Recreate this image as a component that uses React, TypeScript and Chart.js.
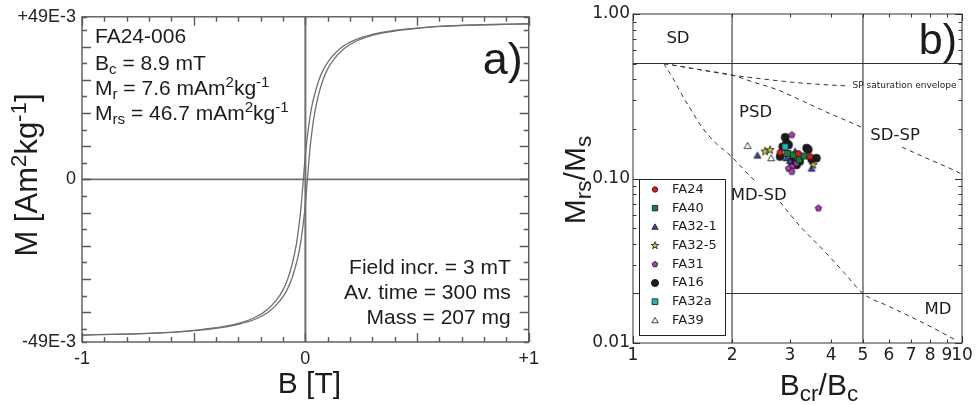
import React, { useEffect, useRef } from 'react';
import { Chart, registerables } from 'chart.js';

Chart.register(...registerables);

// ---------------- Panel a: hysteresis loop ----------------
const FIELD_T = [-1, -0.8, -0.6, -0.5, -0.4, -0.3, -0.22, -0.17, -0.13, -0.1, -0.08, -0.06, -0.04, -0.03, -0.02, -0.01, 0,
  0.01, 0.02, 0.03, 0.04, 0.06, 0.08, 0.1, 0.13, 0.17, 0.22, 0.3, 0.4, 0.5, 0.6, 0.8, 1];
// descending branch (from +1 T to -1 T)
const M_DESCENDING = [-0.0469, -0.0466, -0.0461, -0.0455, -0.0447, -0.0434, -0.0414, -0.0392, -0.0364, -0.0333, -0.0302, -0.0258, -0.0194, -0.0147, -0.0088, -0.0008, 0.0074,
  0.0136, 0.0185, 0.0224, 0.0252, 0.0298, 0.033, 0.0353, 0.0378, 0.0402, 0.042, 0.0437, 0.0449, 0.0456, 0.0461, 0.0466, 0.0469];
// ascending branch (from -1 T to +1 T)
const M_ASCENDING = [-0.0469, -0.0466, -0.0461, -0.0456, -0.0449, -0.0437, -0.042, -0.0402, -0.0378, -0.0353, -0.033, -0.0298, -0.0252, -0.0224, -0.0185, -0.0136, -0.0074,
  0.0008, 0.0088, 0.0147, 0.0194, 0.0258, 0.0302, 0.0333, 0.0364, 0.0392, 0.0414, 0.0434, 0.0447, 0.0455, 0.0461, 0.0466, 0.0469];
const A_X_TICKS = [-1, -0.9, -0.8, -0.7, -0.6, -0.5, -0.4, -0.3, -0.2, -0.1, 0, 0.1, 0.2, 0.3, 0.4, 0.5, 0.6, 0.7, 0.8, 0.9, 1];
const A_Y_TICKS = [-0.049, -0.045, -0.04, -0.035, -0.03, -0.025, -0.02, -0.015, -0.01, -0.005, 0,
  0.005, 0.01, 0.015, 0.02, 0.025, 0.03, 0.035, 0.04, 0.045, 0.049];
const A_X_LABELS: [number, string][] = [[-1, '-1'], [0, '0'], [1, '+1']];
const A_Y_LABELS: [number, string][] = [[-0.049, '-49E-3'], [0, '0'], [0.049, '+49E-3']];

// ---------------- Panel b: Day plot ----------------
const B_X_TICKS = [1, 2, 3, 4, 5, 6, 7, 8, 9, 10];
const B_X_LABELS: [number, string][] = [[1, '1'], [2, '2'], [3, '3'], [4, '4'], [5, '5'], [6, '6'], [7, '7'], [8, '8'], [9, '9'], [10, '10']];
const B_Y_TICKS = [0.01, 0.02, 0.03, 0.04, 0.05, 0.06, 0.07, 0.08, 0.09, 0.1, 0.2, 0.3, 0.4, 0.5, 0.6, 0.7, 0.8, 0.9, 1];
const B_Y_LABELS: [number, string][] = [[0.01, '0.01'], [0.1, '0.10'], [1, '1.00']];
const BCR_BOUNDS = [2, 5];
const MRS_BOUNDS = [0.02, 0.5];

const SP_ENV_X = [1.24, 1.6, 2.0, 2.5, 3.0, 3.5, 4.0, 4.55];
const SP_ENV_Y = [0.5, 0.458, 0.425, 0.402, 0.386, 0.376, 0.37, 0.365];
const SDSP_A_X = [1.24, 1.6, 2.0, 2.3, 2.76, 3.3, 3.97, 4.5, 5.0];
const SDSP_A_Y = [0.5, 0.458, 0.425, 0.388, 0.345, 0.294, 0.248, 0.223, 0.203];
const SDSP_B_X = [6.57, 8.0, 9.66, 10];
const SDSP_B_Y = [0.155, 0.13, 0.11, 0.106];
const MDSD_A_X = [1.24, 1.32, 1.4, 1.5, 1.62, 1.78, 2.0, 2.2, 2.38];
const MDSD_A_Y = [0.5, 0.41, 0.33, 0.262, 0.205, 0.165, 0.135, 0.11, 0.094];
const MDSD_B_X = [2.8, 3.2, 3.79, 4.4, 5.0, 6.0, 6.95, 8.2, 9.5];
const MDSD_B_Y = [0.072, 0.052, 0.0367, 0.0265, 0.02, 0.0167, 0.0145, 0.0123, 0.0105];

const SAMPLE_NAMES = ['FA24', 'FA40', 'FA32-1', 'FA32-5', 'FA31', 'FA16', 'FA32a', 'FA39'];
const FA24_X = [2.8, 3.18, 3.45];
const FA24_Y = [0.144, 0.142, 0.136];
const FA40_X = [2.95, 3.07, 3.2, 3.31];
const FA40_Y = [0.142, 0.139, 0.13, 0.137];
const FA32_1_X = [2.39, 2.93, 3.11, 3.0, 3.49];
const FA32_1_Y = [0.138, 0.133, 0.146, 0.128, 0.115];
const FA32_5_X = [2.52, 2.61, 3.53];
const FA32_5_Y = [0.146, 0.149, 0.121];
const FA31_X = [3.04, 3.14, 3.04, 2.97, 3.04, 3.66];
const FA31_Y = [0.184, 0.124, 0.118, 0.115, 0.11, 0.066];
const FA16_X = [2.9, 2.93, 2.85, 2.97, 3.37, 3.41, 3.61, 3.21, 3.04, 2.8, 3.14, 3.49];
const FA16_Y = [0.178, 0.164, 0.156, 0.16, 0.153, 0.15, 0.133, 0.127, 0.127, 0.136, 0.121, 0.131];
const FA32A_X = [2.9];
const FA32A_Y = [0.156];
const FA39_X = [2.23, 2.63];
const FA39_Y = [0.158, 0.133];

const SAMPLE_X = [FA24_X, FA40_X, FA32_1_X, FA32_5_X, FA31_X, FA16_X, FA32A_X, FA39_X];
const SAMPLE_Y = [FA24_Y, FA40_Y, FA32_1_Y, FA32_5_Y, FA31_Y, FA16_Y, FA32A_Y, FA39_Y];

// styles
const MARKER_SHAPE = ['circle', 'square', 'triangle', 'star', 'pentagon', 'circle', 'square', 'triangle'];
const MARKER_FILL = ['#e3191e', '#17803d', '#3548a8', '#d8c23a', '#b23db0', '#1c1c1c', '#22b3bf', '#ffffff'];
const MARKER_R = [3, 3, 3.2, 3.2, 3, 4, 3.2, 3.2];

const B_ANNOTATIONS: { text: string; x: number; y: number }[] = [
  { text: 'SD', x: 1.37, y: 0.705 },
  { text: 'PSD', x: 2.36, y: 0.25 },
  { text: 'SD-SP', x: 6.26, y: 0.181 },
  { text: 'MD-SD', x: 2.41, y: 0.079 },
  { text: 'MD', x: 8.45, y: 0.0159 },
];

const SANS = "'Liberation Sans', Arial, Helvetica, sans-serif";
const DEJAVU = "'DejaVu Sans', Verdana, sans-serif";

type Seg = [string, number];

function pts(xs: number[], ys: number[]) {
  return xs.map((x, i) => ({ x, y: ys[i] }));
}

function valueLabel(pairs: [number, string][], v: number) {
  const p = pairs.find(([k]) => Math.abs(k - v) < 1e-9);
  return p ? p[1] : '';
}

function drawRich(ctx: CanvasRenderingContext2D, segs: Seg[], x: number, y: number, size: number, family: string,
  align: 'left' | 'right' | 'center', color: string, rotate = false, scale = 0.72) {
  ctx.save();
  ctx.fillStyle = color;
  ctx.textBaseline = 'alphabetic';
  ctx.textAlign = 'left';
  const fontFor = (m: number) => `${m === 0 ? size : size * scale}px ${family}`;
  let total = 0;
  for (const [t, m] of segs) {
    ctx.font = fontFor(m);
    total += ctx.measureText(t).width;
  }
  ctx.translate(x, y);
  if (rotate) ctx.rotate(-Math.PI / 2);
  let cx = align === 'left' ? 0 : align === 'right' ? -total : -total / 2;
  for (const [t, m] of segs) {
    ctx.font = fontFor(m);
    const dy = m === -1 ? size * 0.2 : m === 1 ? -size * 0.36 : 0;
    ctx.fillText(t, cx, dy);
    cx += ctx.measureText(t).width;
  }
  ctx.restore();
}

function shapePath(ctx: CanvasRenderingContext2D, shape: string, x: number, y: number, r: number) {
  ctx.beginPath();
  if (shape === 'circle') {
    ctx.arc(x, y, r, 0, Math.PI * 2);
  } else if (shape === 'square') {
    ctx.rect(x - r, y - r, 2 * r, 2 * r);
  } else if (shape === 'triangle') {
    const R = r * 1.25;
    for (let k = 0; k < 3; k++) {
      const a = -Math.PI / 2 + (k * 2 * Math.PI) / 3;
      const px = x + R * Math.cos(a), py = y + R * Math.sin(a) + r * 0.2;
      if (k === 0) ctx.moveTo(px, py); else ctx.lineTo(px, py);
    }
  } else if (shape === 'star') {
    for (let k = 0; k < 10; k++) {
      const a = -Math.PI / 2 + (k * Math.PI) / 5;
      const R = k % 2 === 0 ? r * 1.35 : r * 0.55;
      const px = x + R * Math.cos(a), py = y + R * Math.sin(a);
      if (k === 0) ctx.moveTo(px, py); else ctx.lineTo(px, py);
    }
  } else {
    for (let k = 0; k < 5; k++) {
      const a = -Math.PI / 2 + (k * 2 * Math.PI) / 5;
      const px = x + r * 1.1 * Math.cos(a), py = y + r * 1.1 * Math.sin(a);
      if (k === 0) ctx.moveTo(px, py); else ctx.lineTo(px, py);
    }
  }
  ctx.closePath();
}

function drawShape(ctx: CanvasRenderingContext2D, shape: string, x: number, y: number, r: number, fill: string) {
  ctx.save();
  shapePath(ctx, shape, x, y, r);
  ctx.fillStyle = fill;
  ctx.fill();
  ctx.lineWidth = 0.8;
  ctx.strokeStyle = '#111';
  ctx.stroke();
  ctx.restore();
}

function makeMarker(shape: string, r: number, fill: string) {
  const c = document.createElement('canvas');
  const s = Math.ceil(r * 3 + 4);
  c.width = s;
  c.height = s;
  const ctx = c.getContext('2d')!;
  drawShape(ctx, shape, s / 2, s / 2, r, fill);
  return c;
}

function drawFrame(chart: any, color: string, lw: number, majorLen: number, minorLen: number,
  isMajorX: (v: number) => boolean, isMajorY: (v: number) => boolean) {
  const { ctx, chartArea: a } = chart;
  const xs = chart.scales.x, ys = chart.scales.y;
  ctx.save();
  ctx.strokeStyle = color;
  ctx.lineWidth = lw;
  ctx.beginPath();
  for (const t of xs.ticks) {
    const px = Math.round(xs.getPixelForValue(t.value)) + 0.5;
    const L = isMajorX(t.value) ? majorLen : minorLen;
    ctx.moveTo(px, a.bottom); ctx.lineTo(px, a.bottom - L);
    ctx.moveTo(px, a.top); ctx.lineTo(px, a.top + L);
  }
  for (const t of ys.ticks) {
    const py = Math.round(ys.getPixelForValue(t.value)) + 0.5;
    const L = isMajorY(t.value) ? majorLen : minorLen;
    ctx.moveTo(a.left, py); ctx.lineTo(a.left + L, py);
    ctx.moveTo(a.right, py); ctx.lineTo(a.right - L, py);
  }
  ctx.stroke();
  ctx.strokeRect(a.left, a.top, a.right - a.left, a.bottom - a.top);
  ctx.restore();
}

function configA(): any {
  const lineDs = (data: any[], color: string, width: number, extra: any = {}) => ({
    data, showLine: true, borderColor: color, borderWidth: width, pointRadius: 0, fill: false, ...extra,
  });
  return {
    type: 'scatter',
    data: {
      datasets: [
        lineDs(pts(FIELD_T, M_DESCENDING), '#6f6f6f', 1.3, { cubicInterpolationMode: 'monotone', order: 1 }),
        lineDs(pts(FIELD_T, M_ASCENDING), '#6f6f6f', 1.3, { cubicInterpolationMode: 'monotone', order: 1 }),
        lineDs(pts([-1, 1], [0, 0]), '#707070', 1.6, { order: 2 }),
        lineDs(pts([0, 0], [-0.049, 0.049]), '#707070', 2, { order: 2 }),
      ],
    },
    options: {
      animation: false,
      responsive: false,
      devicePixelRatio: 1,
      layout: { padding: { left: 0, top: 16, right: 12, bottom: 0 } },
      plugins: { legend: { display: false }, tooltip: { enabled: false } },
      scales: {
        x: {
          type: 'linear', min: -1, max: 1,
          afterBuildTicks: (s: any) => { s.ticks = A_X_TICKS.map((v) => ({ value: v })); },
          afterFit: (s: any) => { s.height = 63; },
          grid: { display: false, drawTicks: false },
          border: { display: false },
          ticks: {
            autoSkip: false, maxRotation: 0, minRotation: 0, padding: 6, color: '#222',
            font: { family: SANS, size: 18 },
            callback: (v: any) => valueLabel(A_X_LABELS, Number(v)),
          },
        },
        y: {
          type: 'linear', min: -0.049, max: 0.049,
          afterBuildTicks: (s: any) => { s.ticks = A_Y_TICKS.map((v) => ({ value: v })); },
          afterFit: (s: any) => { s.width = 82; },
          grid: { display: false, drawTicks: false },
          border: { display: false },
          ticks: {
            autoSkip: false, padding: 6, color: '#222',
            font: { family: SANS, size: 18 },
            callback: (v: any) => valueLabel(A_Y_LABELS, Number(v)),
          },
        },
      },
    },
    plugins: [{
      id: 'panelA',
      afterDraw(chart: any) {
        const { ctx, chartArea: a } = chart;
        drawFrame(chart, '#5a5a5a', 1.4, 9, 5,
          (v) => Math.abs(v * 2 - Math.round(v * 2)) < 1e-6,
          (v) => Math.abs(v * 100 - Math.round(v * 100)) < 1e-6);
        const col = '#1c1c1c';
        const fs = 21;
        drawRich(ctx, [['FA24-006', 0]], a.left + 13, 43, fs, SANS, 'left', col);
        drawRich(ctx, [['B', 0], ['c', -1], [' = 8.9 mT', 0]], a.left + 13, 70, fs, SANS, 'left', col);
        drawRich(ctx, [['M', 0], ['r', -1], [' = 7.6 mAm', 0], ['2', 1], ['kg', 0], ['-1', 1]], a.left + 13, 95, fs, SANS, 'left', col);
        drawRich(ctx, [['M', 0], ['rs', -1], [' = 46.7 mAm', 0], ['2', 1], ['kg', 0], ['-1', 1]], a.left + 13, 120, fs, SANS, 'left', col);
        drawRich(ctx, [['Field incr. = 3 mT', 0]], a.right - 18, 274, fs, SANS, 'right', col);
        drawRich(ctx, [['Av. time = 300 ms', 0]], a.right - 18, 299, fs, SANS, 'right', col);
        drawRich(ctx, [['Mass = 207 mg', 0]], a.right - 18, 324, fs, SANS, 'right', col);
        drawRich(ctx, [['a)', 0]], a.right - 6, 74, 45, SANS, 'right', col);
        drawRich(ctx, [['B [T]', 0]], (a.left + a.right) / 2 + 4, 393, 30, SANS, 'center', col);
        drawRich(ctx, [['M [Am', 0], ['2', 1], ['kg', 0], ['-1', 1], [']', 0]], 37, 175, 31, SANS, 'center', col, true);
      },
    }],
  };
}

function configB(): any {
  const lineDs = (data: any[], dashed: boolean) => ({
    data, showLine: true, borderColor: '#333', borderWidth: dashed ? 1 : 1.1, pointRadius: 0, fill: false,
    borderDash: dashed ? [4.5, 4] : [], cubicInterpolationMode: 'monotone', order: 3,
  });
  const scatterSets = SAMPLE_NAMES.map((name, i) => ({
    label: name,
    data: pts(SAMPLE_X[i], SAMPLE_Y[i]),
    showLine: false,
    pointStyle: makeMarker(MARKER_SHAPE[i], MARKER_R[i], MARKER_FILL[i]),
    pointRadius: MARKER_R[i],
    order: name === 'FA16' ? 1 : 0,
  }));
  return {
    type: 'scatter',
    data: {
      datasets: [
        ...scatterSets,
        lineDs(pts([BCR_BOUNDS[0], BCR_BOUNDS[0]], [0.01, 1]), false),
        lineDs(pts([BCR_BOUNDS[1], BCR_BOUNDS[1]], [0.01, 1]), false),
        lineDs(pts([1, 10], [MRS_BOUNDS[0], MRS_BOUNDS[0]]), false),
        lineDs(pts([1, 10], [MRS_BOUNDS[1], MRS_BOUNDS[1]]), false),
        lineDs(pts(SP_ENV_X, SP_ENV_Y), true),
        lineDs(pts(SDSP_A_X, SDSP_A_Y), true),
        lineDs(pts(SDSP_B_X, SDSP_B_Y), true),
        lineDs(pts(MDSD_A_X, MDSD_A_Y), true),
        lineDs(pts(MDSD_B_X, MDSD_B_Y), true),
      ],
    },
    options: {
      animation: false,
      responsive: false,
      devicePixelRatio: 1,
      layout: { padding: { left: 0, top: 14, right: 16, bottom: 0 } },
      plugins: { legend: { display: false }, tooltip: { enabled: false } },
      scales: {
        x: {
          type: 'logarithmic', min: 1, max: 10,
          afterBuildTicks: (s: any) => { s.ticks = B_X_TICKS.map((v) => ({ value: v })); },
          afterFit: (s: any) => { s.height = 62; },
          grid: { display: false, drawTicks: false },
          border: { display: false },
          ticks: {
            autoSkip: false, maxRotation: 0, minRotation: 0, padding: 2, color: '#222',
            font: { family: DEJAVU, size: 17 },
            callback: (v: any) => valueLabel(B_X_LABELS, Number(v)),
          },
        },
        y: {
          type: 'logarithmic', min: 0.01, max: 1,
          afterBuildTicks: (s: any) => { s.ticks = B_Y_TICKS.map((v) => ({ value: v })); },
          afterFit: (s: any) => { s.width = 88; },
          grid: { display: false, drawTicks: false },
          border: { display: false },
          ticks: {
            autoSkip: false, padding: 3, color: '#222',
            font: { family: DEJAVU, size: 17 },
            callback: (v: any) => valueLabel(B_Y_LABELS, Number(v)),
          },
        },
      },
    },
    plugins: [{
      id: 'panelB',
      afterDraw(chart: any) {
        const { ctx, chartArea: a } = chart;
        const xs = chart.scales.x, ys = chart.scales.y;
        drawFrame(chart, '#333', 1, 7, 3.5,
          (v) => Math.abs(v - 1) < 1e-9 || Math.abs(v - 10) < 1e-9,
          (v) => [0.01, 0.1, 1].some((m) => Math.abs(m - v) < 1e-9));
        const col = '#1c1c1c';
        ctx.save();
        ctx.fillStyle = col;
        ctx.textBaseline = 'middle';
        ctx.textAlign = 'center';
        ctx.font = `16.5px ${DEJAVU}`;
        for (const an of B_ANNOTATIONS) {
          ctx.fillText(an.text, xs.getPixelForValue(an.x), ys.getPixelForValue(an.y));
        }
        ctx.font = `9px ${DEJAVU}`;
        ctx.textAlign = 'left';
        ctx.fillText('SP saturation envelope', xs.getPixelForValue(SP_ENV_X[SP_ENV_X.length - 1]) + 3,
          ys.getPixelForValue(SP_ENV_Y[SP_ENV_Y.length - 1]));
        ctx.restore();

        // legend
        const lx = a.left + 6, ly = a.top + 165, lw = 86, lh = 156;
        ctx.save();
        ctx.fillStyle = '#fff';
        ctx.fillRect(lx, ly, lw, lh);
        ctx.strokeStyle = '#222';
        ctx.lineWidth = 1;
        ctx.strokeRect(lx + 0.5, ly + 0.5, lw, lh);
        ctx.font = `13px ${DEJAVU}`;
        ctx.textBaseline = 'middle';
        ctx.textAlign = 'left';
        ctx.fillStyle = col;
        SAMPLE_NAMES.forEach((name, i) => {
          const cy = ly + 10.5 + i * 18.7;
          drawShape(ctx, MARKER_SHAPE[i], lx + 16, cy, MARKER_R[i] * 0.9, MARKER_FILL[i]);
          ctx.fillStyle = col;
          ctx.fillText(name, lx + 33, cy);
        });
        ctx.restore();

        drawRich(ctx, [['b)', 0]], a.right - 5, 54, 43, SANS, 'right', col);
        drawRich(ctx, [['B', 0], ['cr', -1], ['/B', 0], ['c', -1]], 274, 395, 30, SANS, 'center', col, false, 0.75);
        drawRich(ctx, [['M', 0], ['rs', -1], ['/M', 0], ['s', -1]], 40, 180, 30, SANS, 'center', col, true, 0.75);
      },
    }],
  };
}

export default function App() {
  const refA = useRef<HTMLCanvasElement>(null);
  const refB = useRef<HTMLCanvasElement>(null);
  useEffect(() => {
    const ca = new Chart(refA.current as HTMLCanvasElement, configA());
    const cb = new Chart(refB.current as HTMLCanvasElement, configB());
    return () => {
      ca.destroy();
      cb.destroy();
    };
  }, []);
  return (
    <div style={{ position: 'absolute', left: 0, top: 0, width: 978, height: 405, background: '#fff', overflow: 'hidden' }}>
      <canvas ref={refA} width={545} height={405} style={{ position: 'absolute', left: 0, top: 0, width: 545, height: 405 }} />
      <canvas ref={refB} width={433} height={405} style={{ position: 'absolute', left: 545, top: 0, width: 433, height: 405 }} />
    </div>
  );
}
